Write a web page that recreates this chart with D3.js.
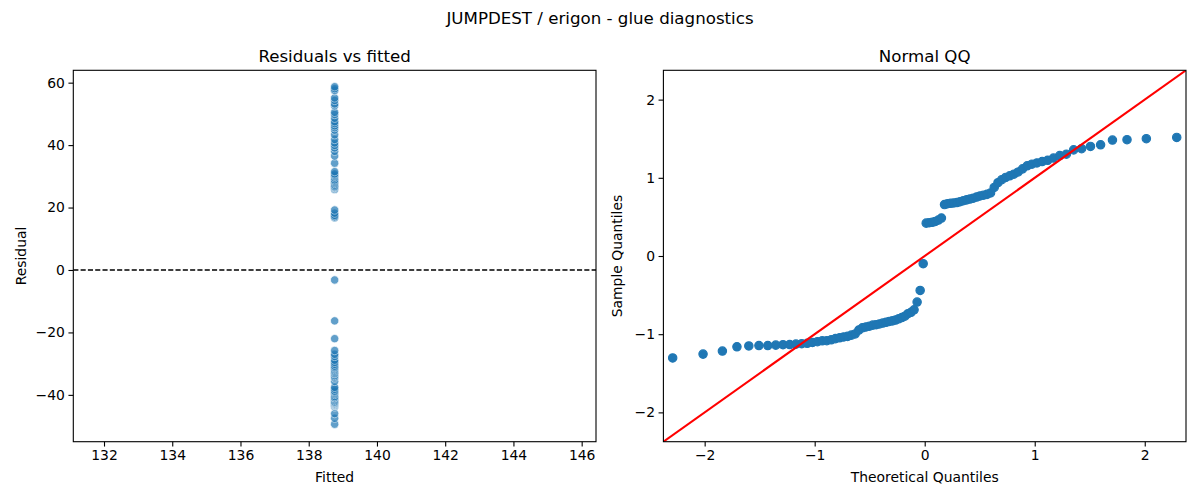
<!DOCTYPE html>
<html><head><meta charset="utf-8">
<script src="https://cdn.jsdelivr.net/npm/d3@7"></script>
<style>
body{margin:0;background:#fff;}
svg{display:block;}
text{font-family:"DejaVu Sans",sans-serif;fill:#000;}
</style>
</head><body><div id="chart"></div>
<script>
// ---- data ----
const residuals = [
  -49.4,-47.5,-46.0,-43.9,-43.5,-43.3,-43.3,-43.1,-42.9,-42.8,
  -42.6,-42.4,-42.2,-41.8,-41.4,-41.0,-40.9,-40.5,-39.9,-39.5,
  -39.1,-38.8,-38.2,-37.6,-35.7,-34.6,-34.2,-33.8,-33.3,-33.1,
  -32.7,-32.3,-31.9,-31.5,-31.2,-30.8,-30.2,-29.6,-28.9,-27.7,
  -27.0,-25.8,-22.0,-16.3,-3.2,16.7,16.9,17.1,17.5,18.2,
  19.2,25.8,26.2,26.4,26.6,26.8,27.2,27.7,28.1,28.5,
  28.9,29.5,30.0,30.4,30.8,31.5,34.2,36.5,38.0,39.1,
  39.9,40.7,41.8,43.3,44.8,45.6,46.2,46.9,47.5,48.6,
  49.8,50.5,52.6,53.2,54.3,55.1,57.4,57.6,58.1,58.7
];
const fittedValue = 138.76;
const leftXTicks = [132,134,136,138,140,142,144,146];
const leftYTicks = [-40,-20,0,20,40,60];
const qqXTicks = [-2,-1,0,1,2];
const qqYTicks = [-2,-1,0,1,2];
const leftXDomain = [131.10,146.42];
const leftYDomain = [-55.0,63.96];
const qqDomain = [-2.375,2.375];

const suptitle = "JUMPDEST / erigon - glue diagnostics";
const leftTitle = "Residuals vs fitted";
const rightTitle = "Normal QQ";

// inverse normal CDF (Acklam)
function normInv(p){
  const a=[-3.969683028665376e+01,2.209460984245205e+02,-2.759285104469687e+02,1.383577518672690e+02,-3.066479806614716e+01,2.506628277459239e+00];
  const b=[-5.447609879822406e+01,1.615858368580409e+02,-1.556989798598866e+02,6.680131188771972e+01,-1.328068155288572e+01];
  const c=[-7.784894002430293e-03,-3.223964580411365e-01,-2.400758277161838e+00,-2.549732539343734e+00,4.374664141464968e+00,2.938163982698783e+00];
  const d=[7.784695709041462e-03,3.224671290700398e-01,2.445134137142996e+00,3.754408661907416e+00];
  const pl=0.02425, ph=1-pl; let q,r;
  if(p<pl){q=Math.sqrt(-2*Math.log(p));return (((((c[0]*q+c[1])*q+c[2])*q+c[3])*q+c[4])*q+c[5])/((((d[0]*q+d[1])*q+d[2])*q+d[3])*q+1);}
  if(p<=ph){q=p-0.5;r=q*q;return (((((a[0]*r+a[1])*r+a[2])*r+a[3])*r+a[4])*r+a[5])*q/(((((b[0]*r+b[1])*r+b[2])*r+b[3])*r+b[4])*r+1);}
  q=Math.sqrt(-2*Math.log(1-p));return -(((((c[0]*q+c[1])*q+c[2])*q+c[3])*q+c[4])*q+c[5])/((((d[0]*q+d[1])*q+d[2])*q+d[3])*q+1);
}

const W=1200,H=500;
const svg=d3.select("#chart").append("svg").attr("width",W).attr("height",H);
const C0="#1f77b4";
const fmt=d3.format("");

svg.append("text").attr("x",600).attr("y",24).attr("text-anchor","middle")
  .style("font-size","16.67px").text(suptitle);

function panel(x0,x1,y0,y1,xs,ys,xt,yt,title,xlabel,ylabel,ylabelX){
  const g=svg.append("g");
  const cid="clip"+Math.round(x0);
  svg.append("clipPath").attr("id",cid).append("rect")
    .attr("x",x0).attr("y",y0).attr("width",x1-x0).attr("height",y1-y0);
  // x axis
  const xa=svg.append("g").attr("transform",`translate(0,${y1})`)
    .call(d3.axisBottom(xs).tickValues(xt).tickFormat(fmt).tickSize(4.86).tickPadding(3.5));
  const ya=svg.append("g").attr("transform",`translate(${x0},0)`)
    .call(d3.axisLeft(ys).tickValues(yt).tickFormat(fmt).tickSize(4.86).tickPadding(3.5));
  [xa,ya].forEach(a=>{
    a.select(".domain").remove();
    a.selectAll("line").attr("stroke","#000").attr("stroke-width",1.1);
    a.selectAll("text").style("font-size","13.9px").attr("fill","#000")
      .style("font-family","DejaVu Sans, sans-serif");
  });
  svg.append("text").attr("x",(x0+x1)/2).attr("y",y0-8.3).attr("text-anchor","middle")
    .style("font-size","16.67px").text(title);
  svg.append("text").attr("x",(x0+x1)/2).attr("y",482).attr("text-anchor","middle")
    .style("font-size","13.9px").text(xlabel);
  const cy=(y0+y1)/2;
  svg.append("text").attr("transform",`translate(${ylabelX},${cy}) rotate(-90)`)
    .attr("text-anchor","middle").attr("dy","0.36em")
    .style("font-size","13.9px").text(ylabel);
  return {g,cid,frame:()=>svg.append("rect").attr("x",x0).attr("y",y0).attr("width",x1-x0).attr("height",y1-y0)
    .attr("fill","none").attr("stroke","#000").attr("stroke-width",1.1)};
}

// ---- left panel ----
const Lx0=73.3,Lx1=596,Py0=70.3,Py1=441.7;
const lx=d3.scaleLinear().domain(leftXDomain).range([Lx0,Lx1]);
const ly=d3.scaleLinear().domain(leftYDomain).range([Py1,Py0]);
const L=panel(Lx0,Lx1,Py0,Py1,lx,ly,leftXTicks,leftYTicks,leftTitle,"Fitted","Residual",21);
const lg=svg.append("g").attr("clip-path",`url(#${L.cid})`);
lg.selectAll("circle").data(residuals).join("circle")
  .attr("cx",lx(fittedValue)).attr("cy",d=>ly(d)).attr("r",4.17)
  .attr("fill",C0).attr("stroke","#fff").attr("stroke-width",0.7).attr("opacity",0.7);
lg.append("line").attr("x1",Lx0).attr("x2",Lx1).attr("y1",ly(0)).attr("y2",ly(0))
  .attr("stroke","#000").attr("stroke-width",1.39).attr("stroke-dasharray","5.1,2.2");
L.frame();

// ---- right panel ----
const Rx0=663.4,Rx1=1186;
const rx=d3.scaleLinear().domain(qqDomain).range([Rx0,Rx1]);
const ry=d3.scaleLinear().domain(qqDomain).range([Py1,Py0]);
const R=panel(Rx0,Rx1,Py0,Py1,rx,ry,qqXTicks,qqYTicks,rightTitle,"Theoretical Quantiles","Sample Quantiles",617);
const n=residuals.length;
const mu=d3.mean(residuals), sd=d3.deviation(residuals);
const sorted=residuals.slice().sort(d3.ascending);
const qq=sorted.map((r,i)=>({t:normInv((i+1)/(n+1)),s:(r-mu)/sd}));
const rg=svg.append("g").attr("clip-path",`url(#${R.cid})`);
rg.selectAll("circle").data(qq).join("circle")
  .attr("cx",d=>rx(d.t)).attr("cy",d=>ry(d.s)).attr("r",4.17)
  .attr("fill",C0).attr("stroke",C0).attr("stroke-width",1.2);
rg.append("line").attr("x1",rx(qqDomain[0])).attr("y1",ry(qqDomain[0]))
  .attr("x2",rx(qqDomain[1])).attr("y2",ry(qqDomain[1]))
  .attr("stroke","#ff0000").attr("stroke-width",2.08);
R.frame();
</script>
</body></html>
